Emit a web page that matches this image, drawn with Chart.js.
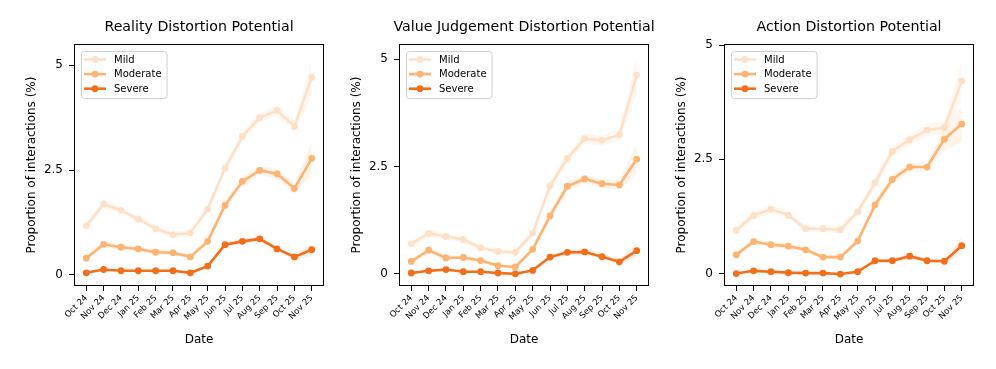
<!DOCTYPE html>
<html><head><meta charset="utf-8">
<script src="https://cdn.jsdelivr.net/npm/chart.js@4.4.0/dist/chart.umd.min.js"></script>
<style>
html,body{margin:0;padding:0;background:#fff;}
#wrap{position:relative;width:996px;height:369px;overflow:hidden;background:#fff;}
canvas{position:absolute;top:0;}
</style></head><body>
<div id="wrap">
<canvas id="c0" width="330" height="369" style="left:0px"></canvas>
<canvas id="c1" width="330" height="369" style="left:325px"></canvas>
<canvas id="c2" width="330" height="369" style="left:650px"></canvas>
</div>
<script>
// ---- data ----
const months = ['Oct 24','Nov 24','Dec 24','Jan 25','Feb 25','Mar 25','Apr 25','May 25','Jun 25','Jul 25','Aug 25','Sep 25','Oct 25','Nov 25'];
const panelTitles = ['Reality Distortion Potential','Value Judgement Distortion Potential','Action Distortion Potential'];
const severityLabels = ['Mild','Moderate','Severe'];
const yTickValues = [0, 2.5, 5];
const yTickLabels = ['0', '2.5', '5'];

const realityMild     = [1.17,1.69,1.54,1.33,1.10,0.96,1.00,1.57,2.54,3.30,3.75,3.92,3.54,4.71];
const realityModerate = [0.40,0.73,0.66,0.62,0.54,0.53,0.43,0.80,1.66,2.23,2.49,2.41,2.06,2.78];
const realitySevere   = [0.05,0.13,0.10,0.10,0.10,0.10,0.05,0.21,0.72,0.80,0.86,0.62,0.43,0.60];

const valueMild     = [0.70,0.94,0.87,0.80,0.61,0.52,0.50,0.95,2.05,2.69,3.15,3.11,3.24,4.63];
const valueModerate = [0.29,0.55,0.37,0.38,0.31,0.19,0.16,0.57,1.35,2.04,2.21,2.10,2.07,2.67];
const valueSevere   = [0.02,0.07,0.10,0.05,0.05,0.02,0.00,0.08,0.39,0.50,0.51,0.40,0.28,0.54];

const actionMild     = [0.95,1.27,1.41,1.28,0.98,0.98,0.96,1.35,1.99,2.67,2.93,3.14,3.19,4.21];
const actionModerate = [0.41,0.70,0.63,0.60,0.52,0.36,0.36,0.71,1.50,2.06,2.33,2.33,2.94,3.27];
const actionSevere   = [0.00,0.06,0.04,0.02,0.01,0.01,-0.01,0.04,0.28,0.28,0.38,0.28,0.27,0.61];

// confidence-interval half widths
const realityMildCI     = [0.08,0.10,0.08,0.08,0.07,0.07,0.07,0.10,0.12,0.12,0.12,0.13,0.15,0.45];
const realityModerateCI = [0.05,0.07,0.06,0.06,0.05,0.05,0.05,0.07,0.10,0.10,0.10,0.12,0.12,0.40];
const realitySevereCI   = [0.02,0.03,0.03,0.03,0.03,0.03,0.02,0.04,0.06,0.06,0.07,0.06,0.06,0.15];

const valueMildCI     = [0.06,0.08,0.07,0.07,0.06,0.06,0.06,0.08,0.12,0.12,0.12,0.12,0.14,0.45];
const valueModerateCI = [0.05,0.07,0.05,0.05,0.05,0.04,0.04,0.06,0.10,0.10,0.10,0.10,0.12,0.35];
const valueSevereCI   = [0.02,0.03,0.03,0.03,0.03,0.02,0.02,0.03,0.06,0.06,0.06,0.06,0.06,0.17];

const actionMildCI     = [0.07,0.09,0.09,0.08,0.07,0.07,0.07,0.09,0.12,0.12,0.12,0.14,0.14,0.45];
const actionModerateCI = [0.05,0.07,0.06,0.06,0.05,0.05,0.05,0.07,0.10,0.10,0.10,0.10,0.25,0.40];
const actionSevereCI   = [0.02,0.03,0.03,0.03,0.02,0.02,0.02,0.03,0.05,0.05,0.06,0.05,0.05,0.18];

const yMins = [-0.24, -0.26, -0.25];
const yMaxs = [5.48, 5.33, 5.0];

const panelSeries = [
  [realityMild, realityModerate, realitySevere],
  [valueMild, valueModerate, valueSevere],
  [actionMild, actionModerate, actionSevere]
];
const panelCI = [
  [realityMildCI, realityModerateCI, realitySevereCI],
  [valueMildCI, valueModerateCI, valueSevereCI],
  [actionMildCI, actionModerateCI, actionSevereCI]
];

// ---- style ----
const colors = ['#fee1c8', '#fdb373', '#f36f1a'];
const bandColors = ['rgba(254,223,196,0.22)', 'rgba(253,179,115,0.15)', 'rgba(243,111,26,0.1)'];
const FONT = '"DejaVu Sans", sans-serif';

const extras = {
  id: 'extras',
  afterDatasetsDraw(chart, args, opts) {
    const ctx = chart.ctx, ca = chart.chartArea;
    ctx.save();
    // frame
    ctx.strokeStyle = '#000';
    ctx.lineWidth = 1;
    ctx.strokeRect(Math.round(ca.left) - 0.5, Math.round(ca.top) - 0.5,
                   Math.round(ca.right - ca.left) + 1, Math.round(ca.bottom - ca.top) + 1);
    // title
    ctx.fillStyle = '#000';
    ctx.font = '14.2px ' + FONT;
    ctx.textAlign = 'center';
    ctx.textBaseline = 'middle';
    ctx.fillText(opts.title, (ca.left + ca.right) / 2, 27);
    // legend
    ctx.font = '10px ' + FONT;
    let tw = 0;
    severityLabels.forEach(l => { tw = Math.max(tw, ctx.measureText(l).width); });
    const bx = ca.left + 6, by = ca.top + 6;
    const bw = 4 + 20 + 8 + tw + 6, bh = 47;
    ctx.beginPath();
    ctx.roundRect(bx + 0.5, by + 0.5, bw, bh, 3);
    ctx.fillStyle = 'rgba(255,255,255,0.8)';
    ctx.fill();
    ctx.strokeStyle = '#d0d0d0';
    ctx.lineWidth = 1;
    ctx.stroke();
    severityLabels.forEach((l, i) => {
      const yy = by + 8.5 + i * 14.6;
      ctx.strokeStyle = colors[i];
      ctx.fillStyle = colors[i];
      ctx.lineWidth = 2.6;
      ctx.beginPath();
      ctx.moveTo(bx + 3, yy); ctx.lineTo(bx + 25, yy);
      ctx.stroke();
      ctx.beginPath();
      ctx.arc(bx + 14, yy, 3.4, 0, Math.PI * 2);
      ctx.fill();
      ctx.fillStyle = '#000';
      ctx.textAlign = 'left';
      ctx.textBaseline = 'middle';
      ctx.fillText(l, bx + 33, yy + 0.5);
    });
    ctx.restore();
  }
};

function makeChart(p) {
  const datasets = [];
  const series = panelSeries[p], ci = panelCI[p];
  series.forEach((vals, s) => {
    datasets.push({
      label: severityLabels[s] + ' low',
      data: vals.map((v, i) => ({x: i, y: v - ci[s][i]})),
      borderWidth: 0, pointRadius: 0, fill: false, borderColor: 'rgba(0,0,0,0)'
    });
    datasets.push({
      label: severityLabels[s] + ' high',
      data: vals.map((v, i) => ({x: i, y: v + ci[s][i]})),
      borderWidth: 0, pointRadius: 0, fill: '-1', borderColor: 'rgba(0,0,0,0)',
      backgroundColor: bandColors[s]
    });
  });
  series.forEach((vals, s) => {
    datasets.push({
      label: severityLabels[s],
      data: vals.map((v, i) => ({x: i, y: v})),
      borderColor: colors[s], backgroundColor: colors[s],
      borderWidth: 2.6, pointRadius: 3.4, pointBorderWidth: 0,
      pointBackgroundColor: colors[s], fill: false, tension: 0
    });
  });

  new Chart(document.getElementById('c' + p), {
    type: 'line',
    data: { datasets },
    options: {
      responsive: false, animation: false, devicePixelRatio: 1,
      layout: { padding: { top: 45, right: 7, left: 0, bottom: 0 } },
      plugins: {
        legend: { display: false }, tooltip: { enabled: false },
        extras: { title: panelTitles[p] }
      },
      scales: {
        x: {
          type: 'linear', min: -0.65, max: 13.65,
          afterBuildTicks: sc => { sc.ticks = months.map((m, i) => ({value: i})); },
          afterFit: sc => { sc.height = 84; },
          grid: { display: true, drawOnChartArea: false, drawTicks: true, tickLength: 6, tickColor: '#000', tickWidth: 1 },
          border: { display: false },
          ticks: {
            autoSkip: false, minRotation: 45, maxRotation: 45, padding: 2,
            color: '#000', font: { family: FONT, size: 8.5 },
            callback: v => months[v]
          },
          title: { display: true, text: 'Date', color: '#000', font: { family: FONT, size: 12 },
                   padding: { top: 0, bottom: 22 } }
        },
        y: {
          type: 'linear', min: yMins[p], max: yMaxs[p],
          afterBuildTicks: sc => { sc.ticks = yTickValues.map(v => ({value: v})); },
          afterFit: sc => { sc.width = 75; },
          grid: { display: true, drawOnChartArea: false, drawTicks: true, tickLength: 6, tickColor: '#000', tickWidth: 1 },
          border: { display: false },
          ticks: {
            padding: 6, color: '#000', font: { family: FONT, size: 12 },
            callback: v => yTickLabels[yTickValues.indexOf(v)]
          },
          title: { display: true, text: 'Proportion of interactions (%)', color: '#000',
                   font: { family: FONT, size: 12 }, padding: { top: 24.5, bottom: 0 } }
        }
      }
    },
    plugins: [extras]
  });
}
[0, 1, 2].forEach(makeChart);
</script>
</body></html>
